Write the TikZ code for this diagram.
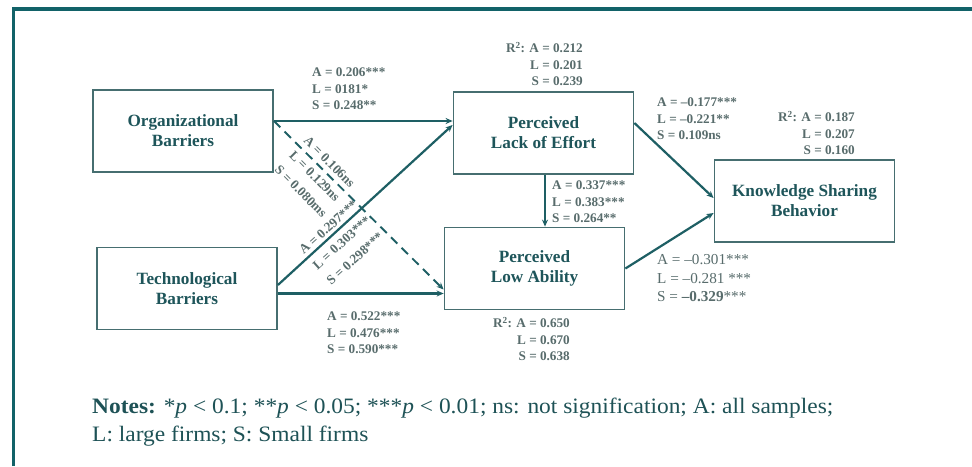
\documentclass[tikz,border=0pt]{standalone}
\usepackage{fontspec}
\setmainfont{Liberation Serif}
\newfontfamily\notefont[FakeStretch=1.065]{Liberation Serif}
\usetikzlibrary{arrows.meta}
\definecolor{framecol}{RGB}{18,98,104}
\definecolor{boxcol}{RGB}{70,110,112}
\definecolor{boxtext}{RGB}{30,85,90}
\definecolor{labelcol}{RGB}{88,108,108}
\definecolor{arrowcol}{RGB}{30,95,100}
\definecolor{notecol}{RGB}{30,82,86}
\begin{document}
\begin{tikzpicture}[x=1pt,y=-1pt,
  box/.style={draw=boxcol, line width=1.8pt, minimum width=180pt, minimum height=82pt,
    align=center, text=boxtext, font=\fontsize{17.2}{20}\selectfont\bfseries, inner sep=0pt},
  lbl/.style={text=labelcol, font=\fontsize{13.2}{16.5}\selectfont\bfseries, inner sep=0pt, align=left},
  rlbl/.style={lbl, font=\fontsize{13.2}{20.5}\selectfont\bfseries},
  rlbr/.style={lbl, align=right},
  arr/.style={draw=arrowcol, line width=2.2pt, -{Stealth[length=7pt,width=6pt]}}]
\useasboundingbox (0,0) rectangle (972,466);
\fill[white] (0,0) rectangle (972,466);
\draw[framecol, line width=3.6pt] (13.3,466) -- (13.3,9.2) -- (972,9.2);

\node[box] (org) at (183,131) {Organizational\\Barriers};
\node[box] (tech) at (187,288.5) {Technological\\Barriers};
\node[box] (loe) at (543.5,133) {Perceived\\Lack of Effort};
\node[box] (lowab) at (534.5,268.5) {Perceived\\Low Ability};
\node[box] (ksb) at (804.5,201) {Knowledge Sharing\\Behavior};

\draw[arr] ([yshift=10pt]org.east) -- ([yshift=10pt]org.east -| loe.west);
\draw[arr, line width=1.9pt, dash pattern=on 9pt off 6pt] ([yshift=10pt]org.east) -- ([yshift=-21pt]lowab.west);
\draw[arr] ([yshift=3.5pt]tech.east) -- ([yshift=8pt]loe.west);
\draw[arr] ([yshift=-5pt]tech.east) -- ([yshift=-5pt]tech.east -| lowab.west);
\draw[arr] ([xshift=1.5pt]loe.south) -- ([xshift=1.5pt]loe.south |- lowab.north);
\draw[arr] ([yshift=10pt]loe.east) -- ([yshift=3pt]ksb.west);
\draw[arr] (lowab.east) -- ([yshift=-12pt]ksb.west);

\node[lbl, anchor=north west] (l1) at (312,68) {A = 0.206***\\L = 0181*\\S = 0.248**};
\node[rlbr, anchor=north east] (r1) at (583,42) {R\textsuperscript{2}: A = 0.212\\L = 0.201\\S = 0.239};
\node[lbl, anchor=north west] (l2) at (657,98) {A = --0.177***\\L = --0.221**\\S = 0.109ns};
\node[rlbr, anchor=north east] (r2) at (855,111) {R\textsuperscript{2}: A = 0.187\\L = 0.207\\S = 0.160};
\node[lbl, anchor=north west] (l3) at (552,181) {A = 0.337***\\L = 0.383***\\S = 0.264**};
\node[lbl, anchor=north west, font=\fontsize{15.2}{18.5}\selectfont] (l4) at (657,254.5) {A = --0.301***\\L = --0.281 ***\\S = \textbf{--0.329}***};
\node[lbl, anchor=north west] (l5) at (327,312) {A = 0.522***\\L = 0.476***\\S = 0.590***};
\node[rlbr, anchor=north east] (r3) at (570,317) {R\textsuperscript{2}: A = 0.650\\L = 0.670\\S = 0.638};
\node[rlbl, rotate=-45] (l6) at (315.5,177) {A = 0.106ns\\L = 0.129ns\\S = 0.080ms};
\node[rlbl, rotate=42] (l7) at (342,242.5) {A = 0.297***\\L = 0.303***\\S = 0.298***};

\node[anchor=north west, inner sep=0pt, align=left, text=notecol, font=\notefont\fontsize{22}{28}\selectfont] (notes) at (92,397.5)
  {\textbf{Notes:} *\textit{p} < 0.1; **\textit{p} < 0.05; ***\textit{p} < 0.01; ns: not signification; A: all samples;\\L: large firms; S: Small firms};
\end{tikzpicture}
\end{document}
